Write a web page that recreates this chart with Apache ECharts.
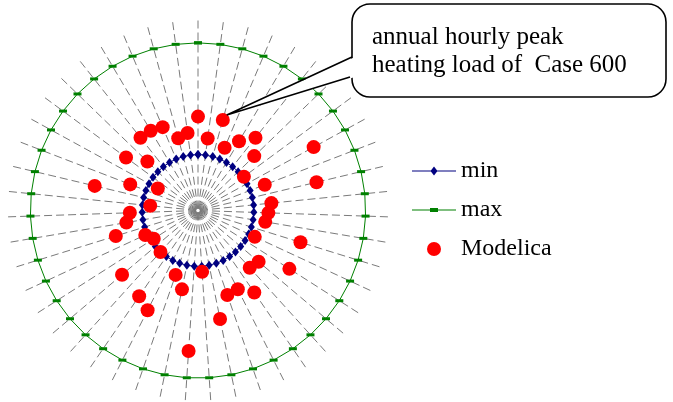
<!DOCTYPE html>
<html>
<head>
<meta charset="utf-8">
<script src="https://cdn.jsdelivr.net/npm/echarts@6/dist/echarts.min.js"></script>
<style>
  html, body { margin: 0; padding: 0; background: #ffffff; }
  #chart { width: 673px; height: 402px; }
</style>
</head>
<body>
<div id="chart"></div>
<script>
// Normalised results on 47 spokes: the lowest reference result maps to 0,
// the highest to 1, and the Modelica result sits wherever it falls.
const spokeCount = 47;
const minValues = [
  0, 0, 0, 0, 0, 0, 0, 0, 0, 0, 0, 0, 0, 0, 0, 0,
  0, 0, 0, 0, 0, 0, 0, 0, 0, 0, 0, 0, 0, 0, 0, 0,
  0, 0, 0, 0, 0, 0, 0, 0, 0, 0, 0, 0, 0, 0, 0
];
const maxValues = [
  1, 1, 1, 1, 1, 1, 1, 1, 1, 1, 1, 1, 1, 1, 1, 1,
  1, 1, 1, 1, 1, 1, 1, 1, 1, 1, 1, 1, 1, 1, 1, 1,
  1, 1, 1, 1, 1, 1, 1, 1, 1, 1, 1, 1, 1, 1, 1
];
const modelicaValues = [
  0.34, 0.15, 0.34, 0.11, 0.22, 0.33, 0.20, 0.01, 0.68, 0.14,
  0.59, 0.16, 0.13, 0.11, 0.46, 0.06, 0.47, 0.21, 0.19, 0.39,
  0.29, 0.30, 0.49, 0.05, 0.76, 0.22, 0.11, 0.50, 0.43, 0.00,
  0.39, -0.03, 0.02, 0.27, 0.15, 0.11, -0.07, 0.45, 0.15, -0.09,
  0.30, 0.13, 0.33, 0.33, 0.31, 0.17, 0.20
];
const seriesNames = ['min', 'max', 'Modelica'];
const calloutLines = ['annual hourly peak', 'heating load of  Case 600'];
const calloutIndex = 2;

const serif = '"Liberation Serif", "Times New Roman", "DejaVu Serif", serif';

// closed ring: the first spoke is repeated at a full turn
function ring(values) {
  return values.map((v, i) => [v, i]).concat([[values[0], spokeCount]]);
}

const chart = echarts.init(document.getElementById('chart'), null, { renderer: 'canvas' });

chart.setOption({
  backgroundColor: '#ffffff',
  animation: false,
  polar: { center: [198, 210.5], radius: 190 },
  angleAxis: {
    type: 'value',
    min: 0,
    max: spokeCount,
    interval: 1,
    startAngle: 90,
    clockwise: true,
    axisLine: { show: false },
    axisTick: { show: false },
    axisLabel: { show: false },
    splitLine: {
      show: true,
      lineStyle: { color: '#7a7a7a', width: 1, type: [8, 4] }
    }
  },
  radiusAxis: {
    type: 'value',
    min: -0.5,
    max: 1.2,
    axisLine: { show: false },
    axisTick: { show: false },
    axisLabel: { show: false },
    splitLine: { show: false }
  },
  legend: {
    orient: 'vertical',
    left: 412,
    top: 159,
    padding: 0,
    itemWidth: 44,
    itemHeight: 14,
    itemGap: 15,
    textStyle: { fontFamily: serif, fontSize: 24, color: '#000000', lineHeight: 24 },
    data: [
      { name: seriesNames[0], icon: 'path://M0,4.5h44v1h-44z M22,0.5L25.5,5L22,9.5L18.5,5z' },
      { name: seriesNames[1], icon: 'path://M0,1.5h44v1h-44z M18,0h8v4h-8z' },
      { name: seriesNames[2], icon: 'circle' }
    ]
  },
  series: [
    {
      name: seriesNames[1],
      type: 'line',
      coordinateSystem: 'polar',
      data: ring(maxValues),
      color: '#008000',
      lineStyle: { color: '#008000', width: 1 },
      symbol: 'rect',
      symbolSize: [8, 3],
      itemStyle: { color: '#008000' },
      z: 2
    },
    {
      name: seriesNames[0],
      type: 'line',
      coordinateSystem: 'polar',
      data: ring(minValues),
      color: '#000080',
      lineStyle: { color: '#000080', width: 1 },
      symbol: 'diamond',
      symbolSize: [7, 9],
      itemStyle: { color: '#000080' },
      z: 3
    },
    {
      name: seriesNames[2],
      type: 'scatter',
      coordinateSystem: 'polar',
      data: modelicaValues.map((v, i) => [v, i]),
      color: '#ff0000',
      symbol: 'circle',
      symbolSize: 14,
      itemStyle: { color: '#ff0000', opacity: 1 },
      z: 4
    }
  ]
});

// Callout box whose pointer ends at the annotated Modelica point
const tip = chart.convertToPixel({ polarIndex: 0 }, [modelicaValues[calloutIndex], calloutIndex]);
const tx = tip[0] + 4, ty = tip[1] - 5;

chart.setOption({
  graphic: [
    {
      type: 'rect',
      shape: { x: 352, y: 4, width: 314, height: 93, r: 18 },
      style: { fill: '#ffffff', stroke: '#000000', lineWidth: 1.6 },
      z: 100
    },
    {
      // opening in the box outline where the pointer leaves it
      type: 'polygon',
      shape: { points: [[tx, ty], [355, 57], [355, 77]] },
      style: { fill: '#ffffff', stroke: null },
      z: 101
    },
    {
      type: 'polyline',
      shape: { points: [[352, 57], [tx, ty], [350, 77]] },
      style: { fill: null, stroke: '#000000', lineWidth: 1.6 },
      z: 102
    },
    {
      type: 'text',
      left: 372,
      top: 23,
      style: {
        text: calloutLines.join('\n'),
        font: '25px ' + serif,
        lineHeight: 28,
        fill: '#000000'
      },
      z: 103
    }
  ]
});
</script>
</body>
</html>
